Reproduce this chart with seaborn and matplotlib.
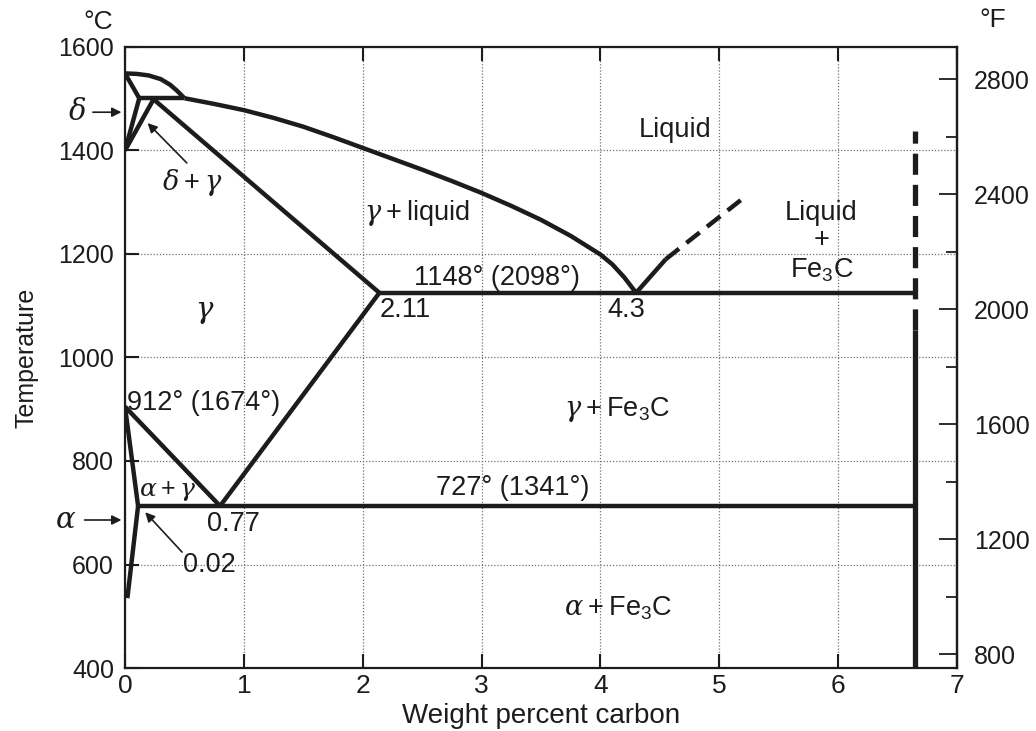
import numpy as np
import pandas as pd
import matplotlib
matplotlib.use("Agg")
import matplotlib.pyplot as plt
from matplotlib.ticker import FixedLocator
import seaborn as sns

# ---------------- data (wt% C, temperature in deg C) ----------------
liq_delta_x = [0.0, 0.1, 0.2, 0.3, 0.38, 0.44, 0.5]
liq_delta_t = [1549, 1548, 1545, 1538, 1527, 1515, 1501]

liquidus_x = [0.5, 0.75, 1.0, 1.25, 1.5, 1.75, 2.0, 2.25, 2.5, 2.75, 3.0,
              3.25, 3.5, 3.75, 4.0, 4.1, 4.2, 4.3]
liquidus_t = [1501, 1490, 1478, 1463, 1446, 1426, 1405, 1384, 1363, 1341,
              1318, 1293, 1266, 1235, 1199, 1180, 1155, 1125]

delta_solidus_x = [0.0, 0.12]
delta_solidus_t = [1549, 1501]

peritectic_x = [0.12, 0.5]
peritectic_t = [1501, 1501]

delta_solvus_x = [0.12, 0.0]
delta_solvus_t = [1501, 1400]

gamma_delta_x = [0.24, 0.0]
gamma_delta_t = [1499, 1400]

gamma_solidus_x = [0.24, 2.14]
gamma_solidus_t = [1499, 1125]

eutectic_x = [2.14, 6.65]
eutectic_t = [1125, 1125]

cem_liq_solid_x = [4.3, 4.55]
cem_liq_solid_t = [1125, 1190]
cem_liq_dash_x = [4.55, 5.18]
cem_liq_dash_t = [1190, 1304]

fe3c_solid_x = [6.65, 6.65]
fe3c_solid_t = [400, 1053]
fe3c_dash_x = [6.65, 6.65]
fe3c_dash_t = [1053, 1437]

acm_x = [2.14, 0.8]
acm_t = [1125, 713]

eutectoid_x = [0.11, 6.65]
eutectoid_t = [713, 713]

a3_x = [0.0, 0.8]
a3_t = [905, 713]

alpha_gamma_x = [0.0, 0.11]
alpha_gamma_t = [905, 713]

alpha_solvus_x = [0.11, 0.02]
alpha_solvus_t = [713, 535]

x_ticks = [0, 1, 2, 3, 4, 5, 6, 7]
c_ticks = [400, 600, 800, 1000, 1200, 1400, 1600]
f_major = [800, 1200, 1600, 2000, 2400, 2800]
f_minor = [1000, 1400, 1800, 2200, 2600]

solid_segments = [
    (liq_delta_x, liq_delta_t), (liquidus_x, liquidus_t),
    (delta_solidus_x, delta_solidus_t), (peritectic_x, peritectic_t),
    (delta_solvus_x, delta_solvus_t), (gamma_delta_x, gamma_delta_t),
    (gamma_solidus_x, gamma_solidus_t), (eutectic_x, eutectic_t),
    (cem_liq_solid_x, cem_liq_solid_t), (acm_x, acm_t),
    (eutectoid_x, eutectoid_t), (a3_x, a3_t),
    (alpha_gamma_x, alpha_gamma_t), (alpha_solvus_x, alpha_solvus_t),
]


def to_frame(segments):
    rows = []
    for i, (xs, ts) in enumerate(segments):
        for x, t in zip(xs, ts):
            rows.append({"x": x, "T": t, "seg": i})
    return pd.DataFrame(rows)


# ---------------- style ----------------
sns.set_theme(style="white")
plt.rcParams["font.family"] = ["Liberation Sans", "DejaVu Sans"]
plt.rcParams["mathtext.fontset"] = "custom"
plt.rcParams["mathtext.rm"] = "Liberation Sans"
plt.rcParams["mathtext.it"] = "DejaVu Serif:italic"
plt.rcParams["mathtext.bf"] = "Liberation Sans:bold"

INK = "#1c1c1c"
fig = plt.figure(figsize=(10.36, 7.31), dpi=100)
ax = fig.add_axes([125 / 1036, 1 - 668 / 731, (957 - 125) / 1036, (668 - 47) / 731])

sns.lineplot(data=to_frame(solid_segments), x="x", y="T", units="seg",
             estimator=None, sort=False, color=INK, linewidth=3.2, ax=ax,
             solid_capstyle="butt", solid_joinstyle="round")
sns.lineplot(data=to_frame([(fe3c_solid_x, fe3c_solid_t)]), x="x", y="T",
             units="seg", estimator=None, sort=False, color=INK,
             linewidth=3.8, ax=ax, solid_capstyle="butt")
sns.lineplot(data=to_frame([(fe3c_dash_x, fe3c_dash_t)]), x="x", y="T",
             units="seg", estimator=None, sort=False, color=INK,
             linewidth=3.8, linestyle=(0, (4.0, 1.9)), ax=ax,
             dash_capstyle="butt")
sns.lineplot(data=to_frame([(cem_liq_dash_x, cem_liq_dash_t)]), x="x", y="T",
             units="seg", estimator=None, sort=False, color=INK,
             linewidth=3.2, linestyle=(0, (3.8, 2.1)), ax=ax,
             dash_capstyle="butt")

ax.set_xlim(0, 7)
ax.set_ylim(400, 1600)
ax.set_xticks(x_ticks)
ax.set_yticks(c_ticks)
ax.grid(True, linestyle=(0, (1, 1.5)), color="0.45", linewidth=0.9)
ax.set_axisbelow(True)
for s in ax.spines.values():
    s.set_color(INK)
    s.set_linewidth(1.6)
    s.set_visible(True)
ax.tick_params(axis="both", which="major", direction="in", length=10,
               width=1.5, color=INK, labelcolor=INK,
               top=True, bottom=True, left=True)
ax.tick_params(axis="x", pad=4, labelsize=19)
ax.tick_params(axis="y", pad=8, labelsize=18)
ax.set_xlabel("Weight percent carbon", fontsize=20, color=INK, labelpad=4)
ax.set_ylabel("Temperature", fontsize=18, color=INK)
ax.yaxis.set_label_coords(-0.104, 0.5)


def c2f(c):
    return np.asarray(c) * 9 / 5 + 32


def f2c(f):
    return (np.asarray(f) - 32) * 5 / 9


sec = ax.secondary_yaxis("right", functions=(c2f, f2c))
sec.set_yticks(f_major)
sec.yaxis.set_minor_locator(FixedLocator(f_minor))
sec.spines["right"].set_color(INK)
sec.spines["right"].set_linewidth(1.6)
sec.tick_params(which="major", direction="in", length=13, width=1.3,
                color=INK, labelcolor=INK, labelsize=18, pad=12)
sec.tick_params(which="minor", direction="in", length=8, width=1.3,
                color=INK)

fig.text(98 / 1036, 1 - 22 / 731, "°C", fontsize=19, color=INK,
         ha="center", va="center")
fig.text(993 / 1036, 1 - 20 / 731, "°F", fontsize=19, color=INK,
         ha="center", va="center")

# ---------------- labels ----------------
tk = dict(color=INK, fontsize=19.5, ha="center", va="center")
gk = dict(color=INK, fontsize=21, ha="center", va="center")
ax.text(4.63, 1440, "Liquid", **tk)
ax.text(2.46, 1279, r"$\gamma + \mathrm{liquid}$", **tk)
ax.text(5.86, 1279, "Liquid", **tk)
ax.text(5.86, 1227, "+", **tk)
ax.text(5.86, 1169, r"$\mathrm{Fe_3C}$", **tk)
ax.text(3.13, 1154, "1148° (2098°)", **tk)
ax.text(2.14, 1092, "2.11", color=INK, fontsize=19.5, ha="left", va="center")
ax.text(4.22, 1092, "4.3", **tk)
ax.text(0.67, 1088, r"$\gamma$", **gk)
ax.text(0.02, 912, "912° (1674°)", color=INK, fontsize=19.5, ha="left",
        va="center")
ax.text(4.14, 899, r"$\gamma + \mathrm{Fe_3C}$", **tk)
ax.text(3.26, 748, "727° (1341°)", **tk)
ax.text(0.36, 742, r"$\alpha + \gamma$", color=INK, fontsize=18,
        ha="center", va="center")
ax.text(0.91, 678, "0.77", **tk)
ax.text(0.71, 599, "0.02", **tk)
ax.text(4.15, 516, r"$\alpha + \mathrm{Fe_3C}$", **tk)
ax.text(0.57, 1339, r"$\delta + \gamma$", **tk)

arrow = dict(arrowstyle="-|>", color=INK, lw=1.2, mutation_scale=14,
             shrinkA=0, shrinkB=0)
ax.annotate("", xy=(0.19, 1453), xytext=(0.52, 1376), arrowprops=arrow)
ax.annotate("", xy=(0.17, 701), xytext=(0.48, 624), arrowprops=arrow)
ax.annotate("", xy=(-0.03, 1474), xytext=(-0.27, 1474), arrowprops=arrow,
            annotation_clip=False)
ax.annotate("", xy=(-0.03, 686), xytext=(-0.34, 686), arrowprops=arrow,
            annotation_clip=False)
ax.text(-0.40, 1474, r"$\delta$", clip_on=False, **gk)
ax.text(-0.50, 686, r"$\alpha$", clip_on=False, **gk)

fig.savefig("out.png", dpi=100)
